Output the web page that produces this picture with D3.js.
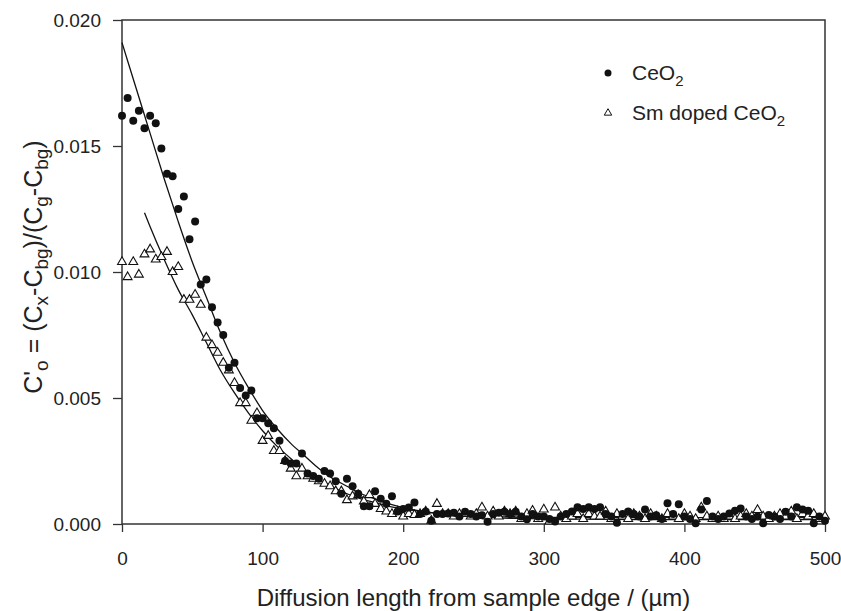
<!DOCTYPE html>
<html lang="en">
  <head>
    <meta charset="UTF-8" />
    <title>Diffusion profile</title>
    <style>
      body { margin: 0; background: #fff; }
      svg text { font-family: "Liberation Sans", Arial, sans-serif; fill: #222; }
    </style>
  </head>
  <body>
    <script src="https://d3js.org/d3.v7.min.js"></script>
    <script>
      // depth positions (µm), one sample every 4 µm
      const depth = [
        0, 4, 8, 12, 16, 20, 24, 28, 32, 36, 40, 44, 48, 52, 56, 60, 64, 68, 72, 76,
        80, 84, 88, 92, 96, 100, 104, 108, 112, 116, 120, 124, 128, 132, 136, 140, 144, 148, 152, 156,
        160, 164, 168, 172, 176, 180, 184, 188, 192, 196, 200, 204, 208, 212, 216, 220, 224, 228, 232, 236,
        240, 244, 248, 252, 256, 260, 264, 268, 272, 276, 280, 284, 288, 292, 296, 300, 304, 308, 312, 316,
        320, 324, 328, 332, 336, 340, 344, 348, 352, 356, 360, 364, 368, 372, 376, 380, 384, 388, 392, 396,
        400, 404, 408, 412, 416, 420, 424, 428, 432, 436, 440, 444, 448, 452, 456, 460, 464, 468, 472, 476,
        480, 484, 488, 492, 496, 500
      ];

      const ceo2 = [
        0.0162, 0.0169, 0.0160, 0.0164, 0.0157, 0.0162, 0.0159, 0.0149, 0.0139, 0.0138,
        0.0125, 0.0130, 0.0113, 0.0120, 0.0095, 0.0097, 0.0086, 0.0080, 0.0075, 0.0062,
        0.0064, 0.0054, 0.0051, 0.0053, 0.0042, 0.0042, 0.0040, 0.0038, 0.0033, 0.0025,
        0.0024, 0.0024, 0.0028, 0.0020, 0.0019, 0.0018, 0.0021, 0.0020, 0.0017, 0.0012,
        0.0018, 0.0015, 0.0012, 0.0007, 0.0007, 0.0013, 0.0010, 0.0008, 0.0011, 0.0005,
        0.0006, 0.00065, 0.00085, 0.0004, 0.0005, 0.00013, 0.0004, 0.0004, 0.00042, 0.00045,
        0.0003, 0.00049, 0.0004, 0.0003, 0.00035, 0.00009, 0.0004, 0.00045, 0.00049, 0.0004,
        0.00049, 0.0003, 0.00019, 0.0004, 0.0003, 0.0003, 0.0002, 0.0001, 0.0003, 0.0004,
        0.0005, 0.00066, 0.0006, 0.00066, 0.0006, 0.00066, 0.0004, 0.0003, 0.00005, 0.0004,
        0.0005, 0.0004, 0.0003, 0.00058, 0.0003, 0.00035, 0.0002, 0.00082, 0.0004, 0.00078,
        0.0003, 0.0002, 0.00003, 0.00058, 0.00091, 0.0003, 0.0002, 0.0003, 0.00042, 0.00053,
        0.00062, 0.0003, 0.0002, 0.0003, 0.00003, 0.00036, 0.0003, 0.0002, 0.00049, 0.0003,
        0.00066, 0.00058, 0.00053, 0.00003, 0.0003, 0.00013
      ];

      const smCeo2 = [
        0.0104, 0.0098, 0.0104, 0.0099, 0.0107, 0.0109, 0.0105, 0.0106, 0.0108, 0.0100,
        0.0102, 0.0089, 0.0089, 0.0091, 0.0087, 0.0074, 0.0071, 0.0068, 0.0064, 0.0061,
        0.0056, 0.0048, 0.0048, 0.0041, 0.0044, 0.0033, 0.0035, 0.0029, 0.0029, 0.0025,
        0.0022, 0.0019, 0.0022, 0.0019, 0.0018, 0.0017, 0.0016, 0.0015, 0.0013, 0.0013,
        0.00095, 0.0011, 0.00115, 0.0009, 0.00115, 0.0008, 0.0006, 0.0005, 0.0004, 0.0005,
        0.0003, 0.0004, 0.00036, 0.0004, 0.0005, 0.00013, 0.0008, 0.0004, 0.0004, 0.0003,
        0.0004, 0.0004, 0.0003, 0.0004, 0.00066, 0.0003, 0.0005, 0.0003, 0.0005, 0.0004,
        0.0005, 0.0002, 0.0004, 0.00053, 0.0002, 0.00058, 0.0001, 0.00066, 0.0003, 0.0002,
        0.0003, 0.0004, 0.0002, 0.0004, 0.0003, 0.0003, 0.0005, 0.0002, 0.0004, 0.0003,
        0.0002, 0.0004, 0.0003, 0.0002, 0.0004, 0.0003, 0.0002, 0.0004, 0.0003, 0.0002,
        0.0004, 0.0003, 0.0002, 0.00066, 0.0003, 0.0002, 0.0003, 0.0002, 0.0003, 0.0002,
        0.0003, 0.0004, 0.0003, 0.00056, 0.0003, 0.0002, 0.0003, 0.0004, 0.0003, 0.0005,
        0.0002, 0.0004, 0.0003, 0.0004, 0.0002, 0.0003
      ];

      // fitted profiles
      const fitCeo2X = [0, 10, 20, 30, 40, 50, 60, 70, 80, 90, 100, 110, 120, 130, 140, 150, 160, 170, 180, 190, 200, 220, 240, 260, 280, 300, 350, 400, 450, 500];
      const fitCeo2Y = [0.0191, 0.0173, 0.0155, 0.0137, 0.0120, 0.0104, 0.0090, 0.0076, 0.0064, 0.0054, 0.0045, 0.0038, 0.0032, 0.0027, 0.0022, 0.0018, 0.0015, 0.0012, 0.0010, 0.0008, 0.00065, 0.00045, 0.00033, 0.00026, 0.00022, 0.0002, 0.00018, 0.00017, 0.00017, 0.00017];
      const fitSmX = [16, 20, 30, 40, 50, 60, 70, 80, 90, 100, 110, 120, 130, 140, 150, 160, 170, 180, 190, 200, 220, 240, 260, 300, 400, 500];
      const fitSmY = [0.01235, 0.0118, 0.0105, 0.0093, 0.0083, 0.0072, 0.0061, 0.0052, 0.0044, 0.0037, 0.0031, 0.0026, 0.0021, 0.0017, 0.00145, 0.0012, 0.0010, 0.00085, 0.0007, 0.0006, 0.00045, 0.00036, 0.0003, 0.00026, 0.00025, 0.00025];

      const xTicks = [0, 100, 200, 300, 400, 500];
      const yTicks = [0, 0.005, 0.01, 0.015, 0.02];

      const width = 841, height = 611;
      const plotLeft = 122, plotRight = 825, plotTop = 20, plotBottom = 524;
      const axisColor = "#333";

      const svg = d3.select("body").append("svg")
        .attr("width", width)
        .attr("height", height);

      const x = d3.scaleLinear().domain([0, 500]).range([plotLeft, plotRight]);
      const y = d3.scaleLinear().domain([0, 0.02]).range([plotBottom, plotTop]);

      // frame
      svg.append("rect")
        .attr("x", plotLeft).attr("y", plotTop)
        .attr("width", plotRight - plotLeft).attr("height", plotBottom - plotTop)
        .attr("fill", "none").attr("stroke", axisColor).attr("stroke-width", 1.5);

      const xAxis = svg.append("g")
        .attr("transform", `translate(0,${plotBottom})`)
        .call(d3.axisBottom(x).tickValues(xTicks).tickSize(8).tickPadding(20).tickFormat(d3.format("d")));
      const yAxis = svg.append("g")
        .attr("transform", `translate(${plotLeft},0)`)
        .call(d3.axisLeft(y).tickValues(yTicks).tickSize(9).tickPadding(12).tickFormat(d3.format(".3f")));

      [xAxis, yAxis].forEach((g) => {
        g.select(".domain").remove();
        g.selectAll(".tick line").attr("stroke", axisColor).attr("stroke-width", 1.3);
        g.selectAll(".tick text").attr("font-size", 19).attr("fill", "#222")
          .attr("font-family", "Liberation Sans, Arial, sans-serif");
      });

      // fit lines
      const line = d3.line().x((d) => x(d[0])).y((d) => y(d[1])).curve(d3.curveMonotoneX);
      svg.append("path")
        .datum(d3.zip(fitCeo2X, fitCeo2Y))
        .attr("d", line).attr("fill", "none").attr("stroke", "#111").attr("stroke-width", 1.3);
      svg.append("path")
        .datum(d3.zip(fitSmX, fitSmY))
        .attr("d", line).attr("fill", "none").attr("stroke", "#111").attr("stroke-width", 1.3);

      // Sm doped points (open triangles)
      const tri = d3.symbol().type(d3.symbolTriangle).size(34);
      svg.append("g").selectAll("path")
        .data(d3.zip(depth, smCeo2))
        .join("path")
        .attr("d", tri)
        .attr("transform", (d) => `translate(${x(d[0])},${y(d[1])})`)
        .attr("fill", "#fff").attr("stroke", "#111").attr("stroke-width", 1.1);

      // CeO2 points (filled circles)
      svg.append("g").selectAll("circle")
        .data(d3.zip(depth, ceo2))
        .join("circle")
        .attr("cx", (d) => x(d[0]))
        .attr("cy", (d) => y(d[1]))
        .attr("r", 4)
        .attr("fill", "#111");

      // legend
      const legend = svg.append("g").attr("font-size", 21);
      const legX = 632;
      legend.append("circle").attr("cx", legX - 24).attr("cy", 73).attr("r", 3.5).attr("fill", "#111");
      const t1 = legend.append("text").attr("x", legX).attr("y", 80);
      t1.append("tspan").text("CeO");
      t1.append("tspan").attr("font-size", 15).attr("dy", 6).text("2");
      legend.append("path").attr("d", d3.symbol().type(d3.symbolTriangle).size(24))
        .attr("transform", `translate(${legX - 24},113)`)
        .attr("fill", "#fff").attr("stroke", "#111").attr("stroke-width", 1);
      const t2 = legend.append("text").attr("x", legX).attr("y", 120);
      t2.append("tspan").text("Sm doped CeO");
      t2.append("tspan").attr("font-size", 15).attr("dy", 6).text("2");

      // x title
      svg.append("text")
        .attr("x", (plotLeft + plotRight) / 2).attr("y", 606)
        .attr("text-anchor", "middle").attr("font-size", 24)
        .text("Diffusion length from sample edge / (µm)");

      // y title with subscripts
      const yt = svg.append("text")
        .attr("transform", "translate(42,267) rotate(-90)")
        .attr("text-anchor", "middle").attr("font-size", 25);
      const sub = (txt) => yt.append("tspan").attr("font-size", 19).attr("dy", 6).text(txt);
      const main = (txt) => yt.append("tspan").attr("dy", -6).text(txt);
      yt.append("tspan").text("C'");
      sub("o");
      main(" = (C");
      sub("x");
      main("-C");
      sub("bg");
      main(")/(C");
      sub("g");
      main("-C");
      sub("bg");
      main(")");
    </script>
  </body>
</html>
